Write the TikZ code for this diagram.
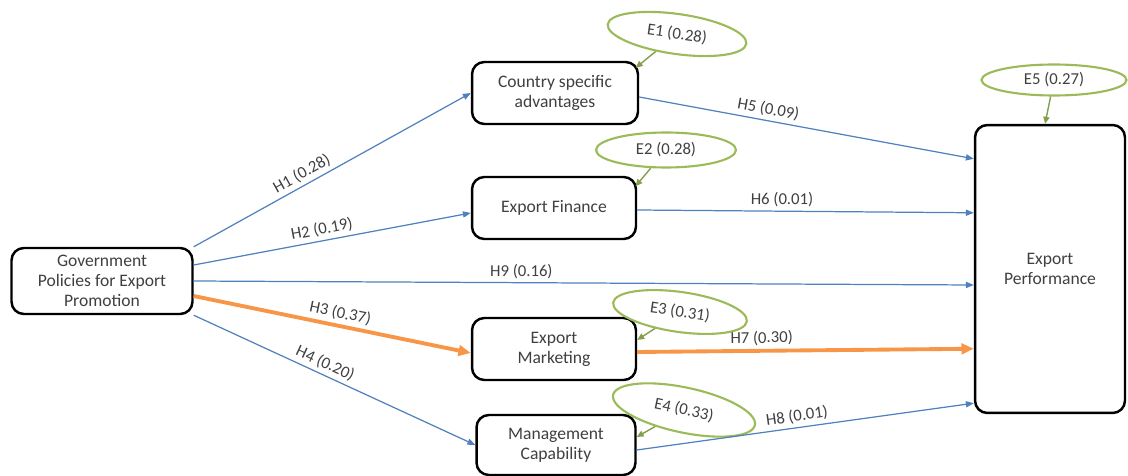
\documentclass[tikz,border=0pt]{standalone}
\usepackage{fontspec}
\setmainfont{Carlito}
\usetikzlibrary{shapes.geometric,arrows.meta}

\definecolor{PathBlue}{RGB}{79,129,189}
\definecolor{ErrGreen}{RGB}{155,187,89}
\definecolor{KeyOrange}{RGB}{247,150,70}
\definecolor{TextGrey}{RGB}{64,64,64}

\begin{document}
\begin{tikzpicture}[x=0.02cm, y=-0.02cm,
    construct/.style={draw, rounded corners=7pt, line width=1.4pt, align=center, fill=white,
                      text=TextGrey, font=\fontsize{10}{11.5}\selectfont, inner sep=2pt},
    errterm/.style={draw=ErrGreen, ellipse, line width=1.2pt, inner sep=0pt,
                    text=TextGrey, font=\fontsize{9.5}{11}\selectfont},
    hyp/.style={-{Triangle[length=4.5pt,width=3.5pt]}, PathBlue, line width=0.7pt},
    keyhyp/.style={-{Triangle[length=7pt,width=6pt]}, KeyOrange, line width=2.2pt},
    errlink/.style={-{Triangle[length=4pt,width=3.5pt]}, ErrGreen!85!black, line width=0.8pt},
    hlabel/.style={sloped, above, text=TextGrey, font=\fontsize{9.5}{11}\selectfont, inner sep=2pt}]
    \useasboundingbox (0,0) rectangle (1128,476);

    % Constructs
    \node[construct, minimum width=3.62cm, minimum height=1.32cm] (gov) at (102,281) {Government\\Policies for Export\\Promotion};
    \node[construct, minimum width=3.32cm, minimum height=1.24cm] (csa) at (555,93) {Country specific\\advantages};
    \node[construct, minimum width=3.28cm, minimum height=1.24cm] (ef) at (554,208) {Export Finance};
    \node[construct, minimum width=3.28cm, minimum height=1.24cm] (em) at (554,349) {Export\\Marketing};
    \node[construct, minimum width=3.18cm, minimum height=1.2cm] (mc) at (556,445) {Management\\Capability};
    \node[construct, minimum width=3.0cm, minimum height=5.76cm] (ep) at (1050,269) {Export\\Performance};

    % Error terms
    \node[errterm, minimum width=2.8cm, minimum height=0.8cm, rotate=-8] (e1) at (677,34) {E1 (0.28)};
    \node[errterm, minimum width=2.8cm, minimum height=0.7cm] (e2) at (666,150) {E2 (0.28)};
    \node[errterm, minimum width=2.7cm, minimum height=0.8cm, rotate=-8] (e3) at (680,312) {E3 (0.31)};
    \node[errterm, minimum width=2.9cm, minimum height=0.9cm, rotate=-12] (e4) at (684,410) {E4 (0.33)};
    \node[errterm, minimum width=2.9cm, minimum height=0.62cm] (e5) at (1054,80) {E5 (0.27)};

    % Error links
    \draw[errlink] (e1) -- ([xshift=-2pt,yshift=-4pt]csa.north east);
    \draw[errlink] (e2) -- ([xshift=-1pt,yshift=-6pt]ef.north east);
    \draw[errlink] (e3) -- ([yshift=0.18cm]em.east);
    \draw[errlink] (e4) -- ([yshift=0.16cm]mc.east);
    \draw[errlink] (e5) -- ([xshift=-0.1cm]ep.north);

    % Paths from government policies
    \draw[hyp] (gov.north east) -- node[hlabel, pos=0.41] {H1 (0.28)} (csa.west);
    \draw[hyp] ([yshift=0.32cm]gov.east) -- node[hlabel, pos=0.47] {H2 (0.19)} ([yshift=-0.1cm]ef.west);
    \draw[hyp] (gov.east) -- node[hlabel, pos=0.42] {H9 (0.16)} ([yshift=-0.32cm]ep.west);
    \draw[keyhyp] ([yshift=-0.3cm]gov.east) -- node[hlabel, pos=0.52] {H3 (0.37)} ([yshift=-0.08cm]em.west);
    \draw[hyp] (gov.south east) -- node[hlabel, pos=0.45] {H4 (0.20)} (mc.west);

    % Paths to export performance
    \draw[hyp] ([yshift=-0.08cm]csa.east) -- node[hlabel, pos=0.38] {H5 (0.09)} ([yshift=-0.7cm]ep.north west);
    \draw[hyp] ([yshift=-0.04cm]ef.east) -- node[hlabel, pos=0.43] {H6 (0.01)} ([yshift=-1.78cm]ep.north west);
    \draw[keyhyp] ([yshift=-0.06cm]em.east) -- node[hlabel, pos=0.37] {H7 (0.30)} ([yshift=-4.5cm]ep.north west);
    \draw[hyp] ([yshift=-0.1cm]mc.east) -- node[hlabel, pos=0.48] {H8 (0.01)} ([yshift=0.22cm]ep.south west);
\end{tikzpicture}
\end{document}
